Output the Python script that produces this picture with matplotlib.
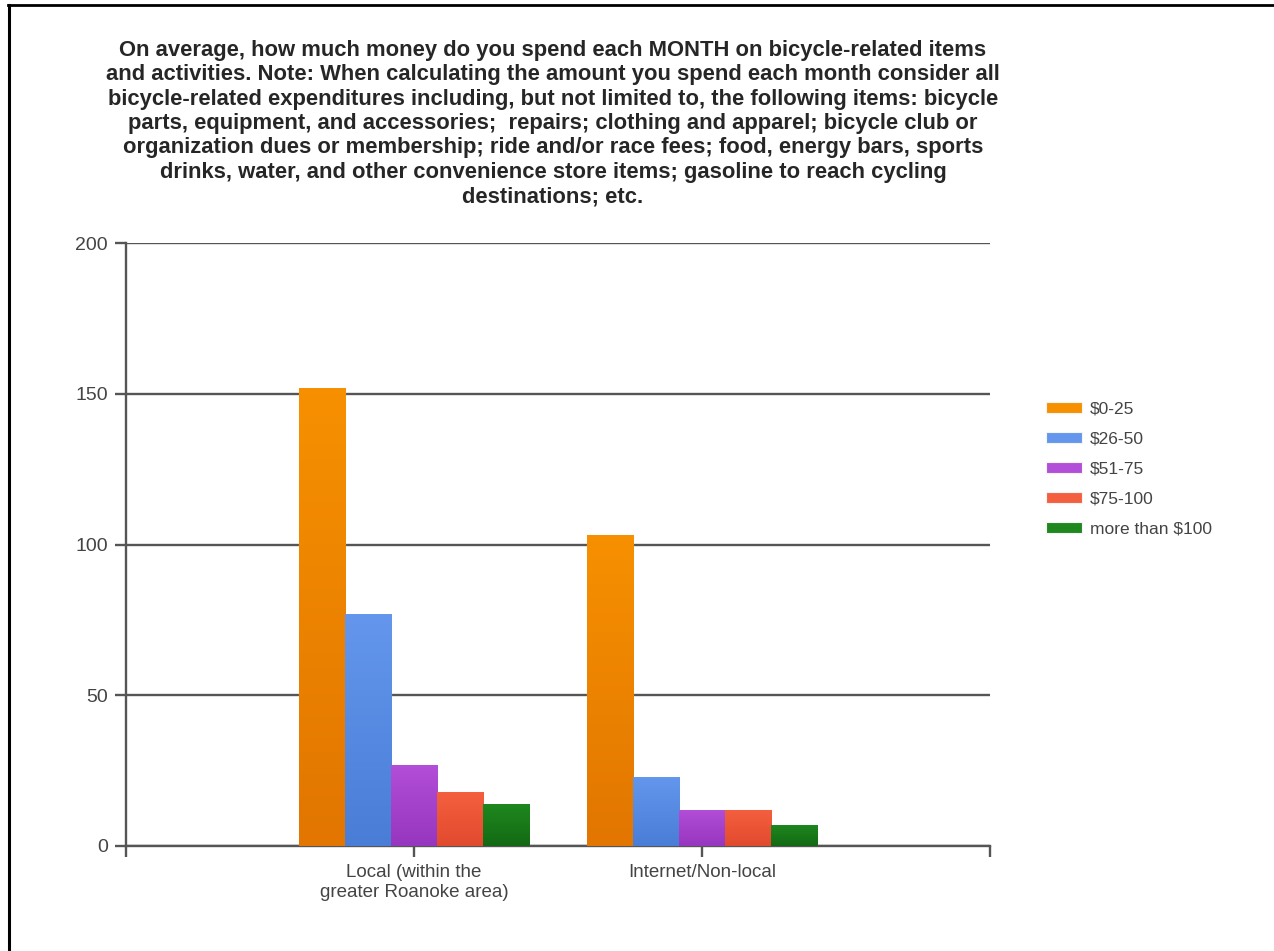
import matplotlib.pyplot as plt
import numpy as np
from matplotlib.lines import Line2D
from matplotlib.colors import LinearSegmentedColormap

plt.rcParams['font.family'] = ['Liberation Sans', 'DejaVu Sans']

title_lines = [
    "On average, how much money do you spend each MONTH on bicycle-related items",
    "and activities. Note: When calculating the amount you spend each month consider all",
    "bicycle-related expenditures including, but not limited to, the following items: bicycle",
    "parts, equipment, and accessories;  repairs; clothing and apparel; bicycle club or",
    "organization dues or membership; ride and/or race fees; food, energy bars, sports",
    "drinks, water, and other convenience store items; gasoline to reach cycling",
    "destinations; etc.",
]

categories = ["Local (within the\ngreater Roanoke area)", "Internet/Non-local"]
series_labels = [r"\$0-25", r"\$26-50", r"\$51-75", r"\$75-100", r"more than \$100"]
values = {
    r"\$0-25": [152, 103],
    r"\$26-50": [77, 23],
    r"\$51-75": [27, 12],
    r"\$75-100": [18, 12],
    r"more than \$100": [14, 7],
}
# (top, bottom) shades of each series
colors = [('#F79000', '#E27600'), ('#6396EC', '#4A7DD6'), ('#B24ED8', '#9736BF'),
          ('#F4603F', '#E24A2D'), ('#1E881E', '#146A14')]

fig = plt.figure(figsize=(12.74, 9.51), dpi=100)
fig.patch.set_facecolor('white')
ax = fig.add_axes([126 / 1274, 1 - 846 / 951, (990 - 126) / 1274, (846 - 243) / 951])

x = np.arange(len(categories))
width = 0.16
grad = np.linspace(1, 0, 64).reshape(-1, 1)
for i, lab in enumerate(series_labels):
    top, bot = colors[i]
    bars = ax.bar(x + (i - 2) * width, values[lab], width, color=top,
                  edgecolor='#f4f4f4', linewidth=0.8, label=lab, zorder=3)
    cmap = LinearSegmentedColormap.from_list('g%d' % i, [bot, top])
    for b in bars:
        bx, by = b.get_x(), b.get_y()
        im = ax.imshow(grad, extent=(bx, bx + b.get_width(), by, by + b.get_height()),
                       cmap=cmap, aspect='auto', zorder=3.2, vmin=0, vmax=1)
        im.set_clip_path(b)

ax.set_xlim(-1.0, 2.0)
ax.set_ylim(0, 200)
ax.set_yticks([0, 50, 100, 150, 200])
ax.yaxis.grid(True, color='#555555', linewidth=1.7, zorder=0)
ax.set_xticks([-1, 0, 1, 2])
ax.set_xticklabels([''] + categories + [''])

for s in ['top', 'right']:
    ax.spines[s].set_visible(False)
for s in ['left', 'bottom']:
    ax.spines[s].set_color('#555555')
    ax.spines[s].set_linewidth(1.7)

ax.tick_params(axis='y', length=8, width=1.7, color='#555555', pad=5,
               labelsize=14, labelcolor='#444444')
ax.tick_params(axis='x', length=8, width=1.7, color='#555555', pad=5,
               labelsize=13.5, labelcolor='#444444')

fig.text(553 / 1274, 1 - 40 / 951, "\n".join(title_lines), ha='center', va='top',
         fontsize=15.8, fontweight='bold', color='#262626', linespacing=1.21)

fig.legend(loc='upper left', bbox_to_anchor=(1030 / 1274, 1 - 386 / 951),
           frameon=False, fontsize=12.5, handlelength=2.1, handleheight=0.6,
           labelspacing=0.86, handletextpad=0.45, labelcolor='#444444')

# frame lines at left and top edge of the screenshot
fig.add_artist(Line2D([8.5 / 1274, 8.5 / 1274], [0, 1 - 4.5 / 951], color='black',
                      linewidth=2.2, transform=fig.transFigure))
fig.add_artist(Line2D([7.5 / 1274, 1.0], [1 - 5 / 951, 1 - 5 / 951], color='black',
                      linewidth=2.0, transform=fig.transFigure))

fig.savefig('out.png', dpi=100, facecolor='white')
